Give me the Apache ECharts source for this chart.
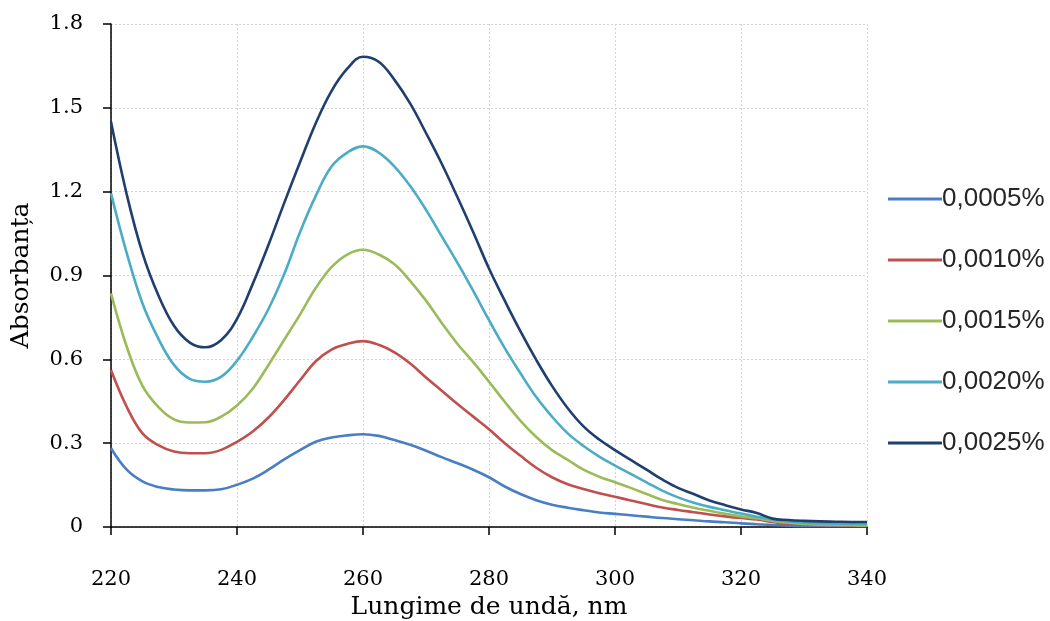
<!DOCTYPE html>
<html>
<head>
<meta charset="utf-8">
<script src="https://cdn.jsdelivr.net/npm/echarts@6/dist/echarts.min.js"></script>
<style>html,body{margin:0;padding:0;background:#fff}#c{width:1050px;height:621px}</style>
</head>
<body>
<div id="c"></div>
<script>
const wavelengths = [220, 222.5, 225, 227.5, 230, 232.5, 235, 237.5, 240, 242.5, 245, 247.5, 250, 252.5, 255, 257.5, 260, 262.5, 265, 267.5, 270, 272.5, 275, 277.5, 280, 282.5, 285, 287.5, 290, 292.5, 295, 297.5, 300, 302.5, 305, 307.5, 310, 312.5, 315, 317.5, 320, 322.5, 325, 327.5, 330, 332.5, 335, 337.5, 340];
const seriesNames = ['0,0005%', '0,0010%', '0,0015%', '0,0020%', '0,0025%'];
const s0005 = [0.282, 0.205, 0.163, 0.143, 0.134, 0.131, 0.131, 0.135, 0.151, 0.173, 0.205, 0.242, 0.275, 0.305, 0.320, 0.328, 0.332, 0.326, 0.311, 0.294, 0.273, 0.250, 0.228, 0.205, 0.178, 0.145, 0.118, 0.096, 0.080, 0.069, 0.060, 0.052, 0.047, 0.042, 0.037, 0.032, 0.028, 0.024, 0.020, 0.017, 0.013, 0.010, 0.007, 0.005, 0.004, 0.004, 0.004, 0.004, 0.004];
const s0010 = [0.562, 0.430, 0.335, 0.293, 0.270, 0.264, 0.264, 0.276, 0.305, 0.342, 0.392, 0.455, 0.525, 0.593, 0.635, 0.655, 0.665, 0.652, 0.625, 0.585, 0.535, 0.488, 0.440, 0.395, 0.350, 0.300, 0.255, 0.212, 0.178, 0.153, 0.136, 0.121, 0.108, 0.095, 0.082, 0.070, 0.061, 0.053, 0.045, 0.038, 0.032, 0.027, 0.018, 0.010, 0.008, 0.006, 0.006, 0.005, 0.005];
const s0015 = [0.836, 0.645, 0.505, 0.430, 0.385, 0.374, 0.375, 0.395, 0.435, 0.495, 0.580, 0.670, 0.760, 0.855, 0.930, 0.975, 0.992, 0.975, 0.940, 0.880, 0.810, 0.730, 0.655, 0.590, 0.520, 0.448, 0.380, 0.322, 0.275, 0.240, 0.205, 0.180, 0.160, 0.140, 0.118, 0.097, 0.082, 0.069, 0.058, 0.047, 0.038, 0.031, 0.022, 0.015, 0.011, 0.008, 0.007, 0.006, 0.005];
const s0020 = [1.194, 0.980, 0.800, 0.675, 0.580, 0.530, 0.520, 0.538, 0.595, 0.680, 0.780, 0.905, 1.055, 1.185, 1.290, 1.340, 1.362, 1.340, 1.290, 1.220, 1.135, 1.040, 0.945, 0.845, 0.740, 0.640, 0.550, 0.465, 0.395, 0.335, 0.290, 0.252, 0.220, 0.190, 0.160, 0.130, 0.106, 0.087, 0.072, 0.060, 0.048, 0.037, 0.027, 0.020, 0.015, 0.013, 0.012, 0.011, 0.010];
const s0025 = [1.450, 1.190, 0.980, 0.830, 0.720, 0.660, 0.643, 0.669, 0.745, 0.870, 1.010, 1.160, 1.305, 1.445, 1.560, 1.640, 1.683, 1.665, 1.600, 1.515, 1.410, 1.300, 1.180, 1.055, 0.925, 0.810, 0.700, 0.598, 0.505, 0.425, 0.360, 0.313, 0.275, 0.240, 0.205, 0.170, 0.140, 0.118, 0.095, 0.078, 0.063, 0.050, 0.030, 0.025, 0.022, 0.020, 0.019, 0.018, 0.018];
const allSeries = [s0005, s0010, s0015, s0020, s0025];
const colors = ['#4A7EC4', '#C0504D', '#9BBB59', '#4BACC6', '#1F3F6E'];

const chart = echarts.init(document.getElementById('c'), null, {renderer: 'canvas'});
const serif = '"DejaVu Serif", "Liberation Serif", serif';
chart.setOption({
  animation: false,
  backgroundColor: '#ffffff',
  grid: {left: 111, right: 183, top: 24, bottom: 94, containLabel: false, outerBoundsMode: 'none'},
  legend: {
    orient: 'vertical',
    left: 883,
    top: 179,
    icon: 'rect',
    itemWidth: 54,
    itemHeight: 3,
    itemGap: 31,
    textStyle: {fontFamily: '"Liberation Sans", Arial, sans-serif', fontSize: 26, color: '#262626', lineHeight: 30, padding: [0, 0, 0, -5]},
    data: seriesNames
  },
  xAxis: {
    type: 'value', min: 220, max: 340, interval: 20,
    name: 'Lungime de undă, nm', nameLocation: 'middle', nameGap: 66,
    nameTextStyle: {fontFamily: serif, fontSize: 25, color: '#000'},
    axisLine: {lineStyle: {color: '#000', width: 1.5}},
    axisTick: {show: true, inside: false, length: 8, lineStyle: {color: '#000', width: 1.5}},
    axisLabel: {fontFamily: serif, fontSize: 21, color: '#000', margin: 42},
    splitLine: {show: true, lineStyle: {color: '#d4d4d4', type: [2, 2], width: 1}}
  },
  yAxis: {
    type: 'value', min: 0, max: 1.8, interval: 0.3,
    name: 'Absorbanța', nameLocation: 'middle', nameGap: 77, nameRotate: 90,
    nameTextStyle: {fontFamily: serif, fontSize: 25, color: '#000'},
    axisLine: {show: true, lineStyle: {color: '#000', width: 1.5}},
    axisTick: {show: true, inside: false, length: 8, lineStyle: {color: '#000', width: 1.5}},
    axisLabel: {fontFamily: serif, fontSize: 21, color: '#000', margin: 28,
      formatter: v => v === 0 ? '0' : v.toFixed(1)},
    splitLine: {show: true, lineStyle: {color: '#d4d4d4', type: [2, 2], width: 1}}
  },
  series: seriesNames.map((n, i) => ({
    name: n,
    type: 'line',
    smooth: 0.4,
    symbol: 'none',
    color: colors[i],
    lineStyle: {width: 2.6, color: colors[i]},
    data: wavelengths.map((w, j) => [w, allSeries[i][j]])
  }))
});
</script>
</body>
</html>
